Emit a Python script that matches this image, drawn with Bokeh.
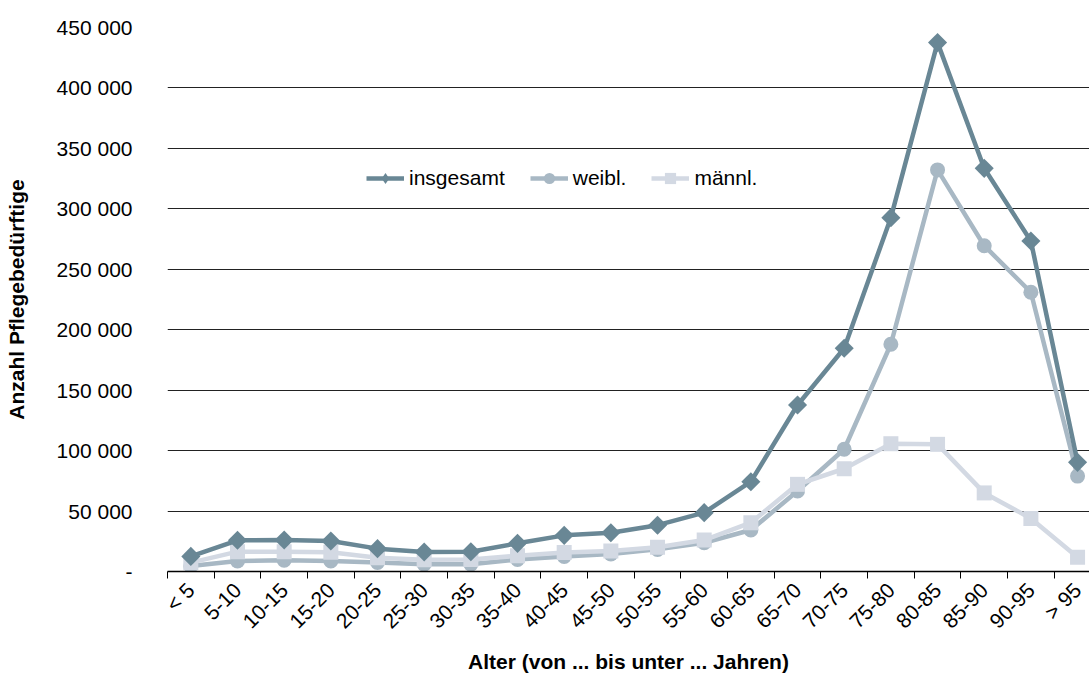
import math
from bokeh.plotting import figure
from bokeh.models import Range1d, FixedTicker, Legend, LegendItem, ColumnDataSource
from bokeh.embed import file_html
from bokeh.resources import INLINE

categories = ["< 5", "5-10", "10-15", "15-20", "20-25", "25-30", "30-35", "35-40",
              "40-45", "45-50", "50-55", "55-60", "60-65", "65-70", "70-75", "75-80",
              "80-85", "85-90", "90-95", "> 95"]
insgesamt = [12500, 25800, 26100, 25200, 18900, 16100, 16400, 23300, 29900, 32100,
             38300, 48700, 74300, 137700, 184700, 292700, 437500, 333500, 273400, 90300]
weiblich = [4500, 8700, 9300, 8700, 7500, 6000, 6000, 10000, 12500, 14500,
            18300, 23800, 34300, 66600, 101100, 188000, 332200, 269500, 231000, 78900]
maennlich = [7300, 16400, 16400, 16000, 11300, 9800, 10000, 13000, 15800, 17000,
             20000, 26000, 40400, 72100, 85000, 105700, 105200, 65000, 43900, 11800]
series_names = ["insgesamt", "weibl.", "männl."]
y_ticks = [0, 50000, 100000, 150000, 200000, 250000, 300000, 350000, 400000, 450000]
y_tick_labels = ["-", "50 000", "100 000", "150 000", "200 000", "250 000",
                 "300 000", "350 000", "400 000", "450 000"]

FONT = "Liberation Sans"
C_ALL = "#698795"
C_W = "#a8b8c4"
C_M = "#d3d9e3"

src = ColumnDataSource(dict(x=list(range(len(categories))), cat=categories,
                            ins=insgesamt, w=weiblich, m=maennlich))

p = figure(width=1089, height=677, output_backend="svg", toolbar_location=None,
           x_range=Range1d(-0.5, 19.256), y_range=Range1d(0, 450000),
           min_border_left=167, min_border_right=0, min_border_top=27,
           min_border_bottom=106)
p.outline_line_color = None
p.background_fill_color = "white"
p.border_fill_color = "white"
p.xgrid.visible = False

# y axis
p.yaxis.ticker = FixedTicker(ticks=y_ticks)
p.yaxis.major_label_overrides = {t: l for t, l in zip(y_ticks, y_tick_labels)}
p.yaxis.axis_line_color = None
p.yaxis.major_tick_line_color = None
p.yaxis.minor_tick_line_color = None
p.yaxis.major_tick_out = 0
p.yaxis.major_tick_in = 0
p.yaxis.major_label_standoff = 35
p.yaxis.major_label_text_font = FONT
p.yaxis.major_label_text_font_size = "21px"
p.yaxis.major_label_text_color = "black"
p.yaxis.axis_label = "Anzahl Pflegebedürftige"
p.yaxis.axis_label_text_font = FONT
p.yaxis.axis_label_text_font_size = "21px"
p.yaxis.axis_label_text_font_style = "bold"
p.yaxis.axis_label_text_color = "black"
p.yaxis.axis_label_standoff = 26
p.ygrid.grid_line_color = "#222222"
p.ygrid.grid_line_width = 1

# x axis
p.xaxis.ticker = FixedTicker(ticks=list(range(len(categories))),
                             minor_ticks=[i - 0.5 for i in range(len(categories) + 1)])
p.xaxis.major_label_overrides = {i: c for i, c in enumerate(categories)}
p.xaxis.major_tick_line_color = None
p.xaxis.major_tick_out = 0
p.xaxis.major_tick_in = 0
p.xaxis.minor_tick_line_color = "black"
p.xaxis.minor_tick_out = 7
p.xaxis.minor_tick_in = 0
p.xaxis.axis_line_color = "black"
p.xaxis.axis_line_width = 1.5
p.xaxis.major_label_orientation = math.pi / 4
p.xaxis.major_label_standoff = 8
p.xaxis.major_label_text_font = FONT
p.xaxis.major_label_text_font_size = "21px"
p.xaxis.major_label_text_color = "black"
p.xaxis.axis_label = "Alter (von ... bis unter ... Jahren)"
p.xaxis.axis_label_text_font = FONT
p.xaxis.axis_label_text_font_size = "21px"
p.xaxis.axis_label_text_font_style = "bold"
p.xaxis.axis_label_text_color = "black"
p.xaxis.axis_label_standoff = 6

# series (draw weibl, männl, then insgesamt on top)
lw = p.line("x", "w", source=src, line_color=C_W, line_width=4.5)
sw = p.scatter("x", "w", source=src, marker="circle", size=15, fill_color=C_W, line_color=None)
lm = p.line("x", "m", source=src, line_color=C_M, line_width=4.5)
sm = p.scatter("x", "m", source=src, marker="square", size=15, fill_color=C_M, line_color=None)
li = p.line("x", "ins", source=src, line_color=C_ALL, line_width=4.5)
# diamond glyph used for the legend swatch; hidden beneath the rotated squares
di = p.scatter("x", "ins", source=src, marker="diamond", size=14,
               fill_color=C_ALL, line_color=None)
si = p.scatter("x", "ins", source=src, marker="square", angle=math.pi / 4, size=13.5,
               fill_color=C_ALL, line_color=None)

legend = Legend(items=[LegendItem(label=series_names[0], renderers=[li, di]),
                       LegendItem(label=series_names[1], renderers=[lw, sw]),
                       LegendItem(label=series_names[2], renderers=[lm, sm])],
                orientation="horizontal", location=(199, 379),
                border_line_color=None, background_fill_alpha=0,
                padding=0, margin=0, spacing=25, glyph_width=38, glyph_height=28,
                label_standoff=5, label_text_font=FONT, label_text_font_size="21px",
                label_text_color="black")
p.add_layout(legend)

open("out.html", "w").write(file_html(p, INLINE))
